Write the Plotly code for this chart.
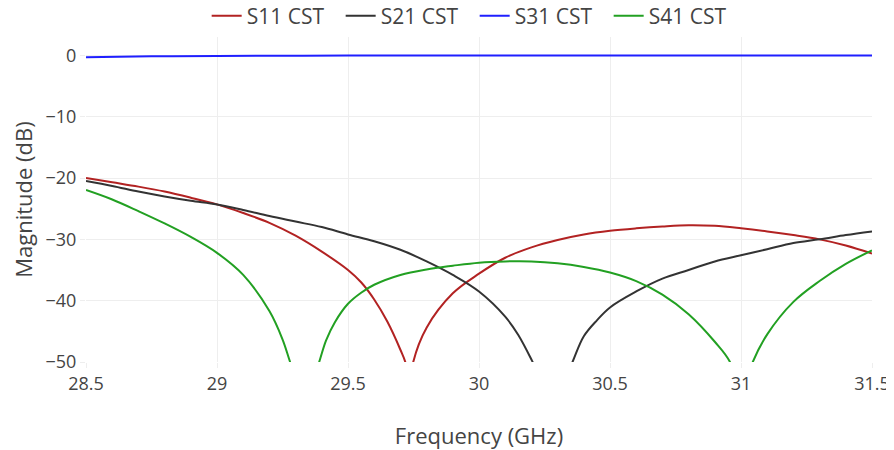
import plotly.graph_objects as go

f_s11 = [28.5, 28.6, 28.7, 28.8, 28.9, 29.0, 29.1, 29.2, 29.3, 29.4, 29.5, 29.55, 29.6, 29.65, 29.7, 29.72,
         29.735, 29.749, 29.8, 29.9, 30.0, 30.1, 30.2, 30.3, 30.4, 30.5, 30.6, 30.7, 30.8, 30.9,
         31.0, 31.1, 31.2, 31.3, 31.4, 31.5]
s11 = [-20.0, -20.7, -21.4, -22.2, -23.2, -24.3, -25.7, -27.3, -29.4, -32.0, -35.0, -37.0, -39.8, -43.4, -48.0, -50.2,
       -55, -50, -44.4, -38.8, -35.6, -33.0, -31.3, -30.1, -29.2, -28.6, -28.2, -27.9, -27.7, -27.8,
       -28.2, -28.7, -29.3, -30.0, -31.0, -32.3]

f_s21 = [28.5, 28.6, 28.7, 28.8, 28.9, 29.0, 29.1, 29.2, 29.3, 29.4, 29.5, 29.6, 29.7, 29.8, 29.9,
         30.0, 30.1, 30.15, 30.2, 30.21, 30.28, 30.357, 30.4, 30.45, 30.5, 30.6, 30.7, 30.8, 30.9, 31.0,
         31.1, 31.2, 31.3, 31.4, 31.5]
s21 = [-20.5, -21.3, -22.2, -23.0, -23.7, -24.3, -25.2, -26.2, -27.1, -28.0, -29.2, -30.3, -31.7, -33.6, -35.8,
       -38.5, -42.6, -45.6, -49.6, -50.5, -58, -50, -45.8, -43.2, -41.1, -38.5, -36.4, -35.0, -33.6, -32.6,
       -31.6, -30.6, -30.0, -29.3, -28.7]

f_s31 = [28.5, 28.75, 29.0, 29.5, 30.0, 30.5, 31.0, 31.5]
s31 = [-0.3, -0.15, -0.08, -0.03, -0.02, -0.02, -0.02, -0.03]

f_s41 = [28.5, 28.6, 28.7, 28.8, 28.9, 29.0, 29.1, 29.2, 29.25, 29.279, 29.335, 29.39, 29.416, 29.45,
         29.5, 29.55, 29.6, 29.7, 29.8, 29.9, 30.0, 30.1, 30.2, 30.3, 30.4, 30.5, 30.6, 30.7, 30.8, 30.9,
         30.958, 31.0, 31.045, 31.1, 31.2, 31.3, 31.4, 31.5]
s41 = [-21.95, -23.5, -25.4, -27.4, -29.6, -32.2, -35.8, -41.7, -46.3, -50, -57, -50, -46.5, -43.5,
       -40.5, -38.7, -37.4, -35.8, -34.9, -34.3, -33.8, -33.6, -33.6, -33.9, -34.5, -35.4, -36.8, -39.0, -42.2, -46.7,
       -50, -56, -50, -45.5, -40.2, -36.8, -34.0, -31.8]

series = [
    ("S11 CST", f_s11, s11, "#b22222"),
    ("S21 CST", f_s21, s21, "#333333"),
    ("S31 CST", f_s31, s31, "#1f1fff"),
    ("S41 CST", f_s41, s41, "#22a022"),
]

fig = go.Figure()
for name, fx, fy, col in series:
    fig.add_trace(go.Scatter(x=fx, y=fy, name=name, mode="lines",
                             line=dict(color=col, width=2, shape="spline", smoothing=1.0)))

fig.update_layout(
    template="none",
    width=894, height=450,
    margin=dict(l=78, r=30, t=29, b=96, autoexpand=False),
    font=dict(family="Open Sans, sans-serif", size=18, color="#444"),
    plot_bgcolor="white", paper_bgcolor="white",
    legend=dict(orientation="h", x=0.522, xanchor="center", xref="container",
                y=0.982, yanchor="middle", yref="container",
                entrywidthmode="pixels", entrywidth=89,
                font=dict(size=21, color="#444")),
    xaxis=dict(title=dict(text="Frequency (GHz)", standoff=35), range=[28.5, 31.5], dtick=0.5,
               gridcolor="#eee", showline=False, zeroline=False, automargin=True,
               ticks="outside", ticklen=5, tickcolor="#eee"),
    yaxis=dict(title=dict(text="Magnitude (dB)"), range=[-50, 3], dtick=10,
               gridcolor="#eee", showline=False, zeroline=False, automargin=False,
               ticks="outside", ticklen=5, tickcolor="#eee"),
)

fig.write_html("out.html")
